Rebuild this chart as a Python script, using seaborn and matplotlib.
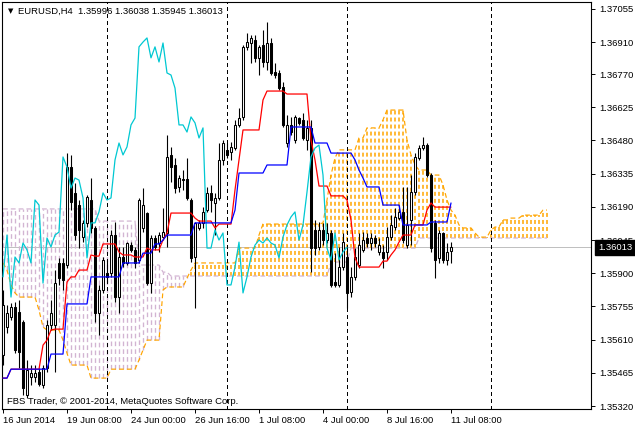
import numpy as np
import matplotlib
matplotlib.use("Agg")
import matplotlib.pyplot as plt
import matplotlib.transforms as mtransforms
import seaborn as sns

# EURUSD H4, one value per bar (bar 0 = 16 Jun 2014 16:00)
opens = [
    1.35543, 1.35665, 1.35709, 1.35752, 1.35731, 1.35687, 1.35368, 1.35447, 1.35447, 1.35468,
    1.35412, 1.35486, 1.35674, 1.35674, 1.35945, 1.35945, 1.35936, 1.36364, 1.36251, 1.36198,
    1.36058, 1.36120, 1.36220, 1.36098, 1.35726, 1.35827, 1.35901, 1.35901, 1.36067, 1.35796,
    1.35971, 1.35945, 1.36023, 1.36002, 1.35958, 1.36098, 1.36163, 1.35857, 1.36054, 1.36032,
    1.36058, 1.36076, 1.36417, 1.36373, 1.36277, 1.36312, 1.36312, 1.36220, 1.35971, 1.36098,
    1.36120, 1.36176, 1.36251, 1.36207, 1.36229, 1.36395, 1.36439, 1.36430, 1.36447, 1.36548,
    1.36583, 1.36889, 1.36906, 1.36919, 1.36841, 1.36897, 1.36823, 1.36906, 1.36779, 1.36775,
    1.36714, 1.36469, 1.36548, 1.36482, 1.36578, 1.36570, 1.36482, 1.36535, 1.36089, 1.36015,
    1.36089, 1.36045, 1.36076, 1.35862, 1.35849, 1.35927, 1.35971, 1.35818, 1.35884, 1.35936,
    1.36002, 1.36054, 1.36032, 1.36054, 1.35993, 1.35993, 1.35993, 1.36058, 1.36102, 1.36141,
    1.36168, 1.36023, 1.36133, 1.36255, 1.36404, 1.36447, 1.36460, 1.36329, 1.36120, 1.35967,
    1.36076, 1.35958, 1.35996,
]
highs = [
    1.35827, 1.35761, 1.35770, 1.35774, 1.35783, 1.35696, 1.35521, 1.35499, 1.35499, 1.35486,
    1.35499, 1.35696, 1.35783, 1.35914, 1.35967, 1.35967, 1.36425, 1.36417, 1.36294, 1.36220,
    1.36133, 1.36242, 1.36316, 1.36106, 1.35849, 1.35971, 1.35958, 1.36089, 1.36124, 1.36015,
    1.36015, 1.36036, 1.36036, 1.36015, 1.36229, 1.36272, 1.36168, 1.36067, 1.36067, 1.36080,
    1.36185, 1.36504, 1.36452, 1.36404, 1.36329, 1.36351, 1.36404, 1.36229, 1.36124, 1.36133,
    1.36189, 1.36277, 1.36286, 1.36251, 1.36469, 1.36482, 1.36469, 1.36474, 1.36570, 1.36622,
    1.36897, 1.36950, 1.36941, 1.36941, 1.36897, 1.36963, 1.36998, 1.36928, 1.36819, 1.36788,
    1.36736, 1.36591, 1.36583, 1.36591, 1.36583, 1.36600, 1.36570, 1.36570, 1.36133, 1.36124,
    1.36120, 1.36120, 1.36089, 1.35988, 1.36015, 1.36076, 1.36015, 1.35927, 1.36010, 1.36076,
    1.36080, 1.36076, 1.36076, 1.36067, 1.36054, 1.36023, 1.36102, 1.36154, 1.36185, 1.36198,
    1.36277, 1.36277, 1.36329, 1.36425, 1.36460, 1.36495, 1.36469, 1.36338, 1.36133, 1.36089,
    1.36080, 1.36032, 1.36038,
]
lows = [
    1.35499, 1.35639, 1.35696, 1.35551, 1.35486, 1.35368, 1.35355, 1.35412, 1.35425, 1.35407,
    1.35398, 1.35468, 1.35652, 1.35468, 1.35849, 1.35827, 1.35923, 1.36176, 1.36045, 1.36010,
    1.36036, 1.36102, 1.36076, 1.35687, 1.35630, 1.35814, 1.35857, 1.35884, 1.35774, 1.35726,
    1.35927, 1.35936, 1.35993, 1.35923, 1.35945, 1.36080, 1.35849, 1.35814, 1.36002, 1.35993,
    1.36045, 1.36015, 1.36299, 1.36251, 1.36255, 1.36264, 1.36220, 1.35949, 1.35748, 1.36089,
    1.36098, 1.36168, 1.36168, 1.36067, 1.36220, 1.36373, 1.36404, 1.36395, 1.36439, 1.36539,
    1.36570, 1.36876, 1.36819, 1.36823, 1.36766, 1.36801, 1.36788, 1.36766, 1.36753, 1.36701,
    1.36539, 1.36452, 1.36504, 1.36469, 1.36548, 1.36482, 1.36439, 1.35905, 1.35980, 1.36002,
    1.36023, 1.36032, 1.35840, 1.35840, 1.35840, 1.35914, 1.35748, 1.35796, 1.35870, 1.35923,
    1.35993, 1.36015, 1.36002, 1.36015, 1.35980, 1.35923, 1.35958, 1.36045, 1.36089, 1.36133,
    1.36032, 1.36010, 1.36023, 1.36242, 1.36395, 1.36439, 1.36321, 1.35993, 1.35879, 1.35945,
    1.35945, 1.35936, 1.35945,
]
closes = [
    1.35761, 1.35726, 1.35752, 1.35565, 1.35556, 1.35398, 1.35477, 1.35464, 1.35464, 1.35416,
    1.35486, 1.35674, 1.35726, 1.35857, 1.35879, 1.35870, 1.36364, 1.36211, 1.36067, 1.36089,
    1.36120, 1.36233, 1.36098, 1.35726, 1.35827, 1.35958, 1.35884, 1.36067, 1.35796, 1.35971,
    1.35945, 1.36032, 1.36002, 1.35945, 1.36220, 1.36198, 1.35857, 1.36054, 1.36015, 1.36067,
    1.36080, 1.36408, 1.36364, 1.36272, 1.36316, 1.36307, 1.36229, 1.35967, 1.36120, 1.36120,
    1.36168, 1.36251, 1.36220, 1.36229, 1.36395, 1.36469, 1.36417, 1.36452, 1.36548, 1.36578,
    1.36889, 1.36910, 1.36928, 1.36841, 1.36889, 1.36823, 1.36906, 1.36775, 1.36766, 1.36709,
    1.36548, 1.36548, 1.36517, 1.36583, 1.36557, 1.36491, 1.36535, 1.36010, 1.36010, 1.36089,
    1.36045, 1.36076, 1.35849, 1.35849, 1.35927, 1.36036, 1.35814, 1.35884, 1.35971, 1.36023,
    1.36045, 1.36032, 1.36054, 1.36032, 1.36023, 1.35967, 1.36058, 1.36111, 1.36146, 1.36168,
    1.36045, 1.36111, 1.36255, 1.36408, 1.36447, 1.36460, 1.36329, 1.36010, 1.35958, 1.36076,
    1.35958, 1.35993, 1.36013,
]

# Ichimoku lines
tenkan = [
    1.35442, 1.35442, 1.35481, 1.35481, 1.35481, 1.35481, 1.35481, 1.35481, 1.35481, 1.35481,
    1.35586, 1.35608, 1.35652, 1.35656, 1.35656, 1.35656, 1.35862, 1.35884, 1.35884, 1.35914,
    1.35914, 1.35914, 1.35980, 1.35975, 1.35975, 1.36028, 1.36028, 1.36028, 1.36028, 1.35993,
    1.35980, 1.35980, 1.35980, 1.35971, 1.35971, 1.35971, 1.36010, 1.36002, 1.36002, 1.36002,
    1.36045, 1.36076, 1.36163, 1.36163, 1.36163, 1.36163, 1.36163, 1.36163, 1.36141, 1.36128,
    1.36128, 1.36128, 1.36128, 1.36098, 1.36115, 1.36115, 1.36115, 1.36115, 1.36264, 1.36395,
    1.36526, 1.36526, 1.36526, 1.36526, 1.36526, 1.36657, 1.36696, 1.36696, 1.36696, 1.36696,
    1.36696, 1.36683, 1.36683, 1.36683, 1.36683, 1.36683, 1.36683, 1.36482, 1.36395, 1.36281,
    1.36281, 1.36281, 1.36238, 1.36238, 1.36238, 1.36238, 1.36220, 1.36133, 1.35967, 1.35927,
    1.35927, 1.35927, 1.35927, 1.35927, 1.35927, 1.35953, 1.35953, 1.35980, 1.36002, 1.36036,
    1.36067, 1.36067, 1.36067, 1.36111, 1.36111, 1.36111, 1.36176, 1.36207, 1.36189, 1.36189,
    1.36189, 1.36189, 1.36189,
]
kijun = [
    1.35442, 1.35442, 1.35481, 1.35481, 1.35481, 1.35481, 1.35481, 1.35481, 1.35481, 1.35481,
    1.35481, 1.35481, 1.35547, 1.35547, 1.35547, 1.35547, 1.35766, 1.35766, 1.35766, 1.35766,
    1.35766, 1.35766, 1.35884, 1.35884, 1.35884, 1.35884, 1.35884, 1.35884, 1.35884, 1.35884,
    1.35945, 1.35945, 1.35945, 1.35945, 1.35945, 1.35988, 1.35988, 1.35988, 1.36028, 1.36028,
    1.36045, 1.36067, 1.36067, 1.36067, 1.36067, 1.36067, 1.36067, 1.36067, 1.36120, 1.36120,
    1.36120, 1.36120, 1.36120, 1.36120, 1.36120, 1.36120, 1.36120, 1.36120, 1.36176, 1.36338,
    1.36338, 1.36338, 1.36338, 1.36338, 1.36338, 1.36338, 1.36373, 1.36373, 1.36373, 1.36373,
    1.36373, 1.36373, 1.36539, 1.36539, 1.36539, 1.36539, 1.36539, 1.36539, 1.36469, 1.36469,
    1.36469, 1.36469, 1.36425, 1.36425, 1.36425, 1.36425, 1.36425, 1.36425, 1.36395, 1.36351,
    1.36316, 1.36277, 1.36277, 1.36277, 1.36277, 1.36198, 1.36198, 1.36198, 1.36198, 1.36198,
    1.36111, 1.36111, 1.36111, 1.36111, 1.36111, 1.36111, 1.36111, 1.36124, 1.36124, 1.36124,
    1.36124, 1.36124, 1.36207,
]
# cloud runs on past the last bar
senkou_a = [
    1.35945, 1.35914, 1.35849, 1.35814, 1.35796, 1.35796, 1.35796, 1.35796, 1.35796, 1.35739,
    1.35665, 1.35652, 1.35652, 1.35652, 1.35652, 1.35608, 1.35551, 1.35499, 1.35499, 1.35499,
    1.35499, 1.35499, 1.35442, 1.35442, 1.35442, 1.35442, 1.35442, 1.35481, 1.35481, 1.35481,
    1.35481, 1.35481, 1.35481, 1.35481, 1.35521, 1.35565, 1.35608, 1.35608, 1.35608, 1.35608,
    1.35827, 1.35840, 1.35840, 1.35840, 1.35840, 1.35840, 1.35879, 1.35914, 1.35945, 1.35945,
    1.35945, 1.35945, 1.35945, 1.35945, 1.35945, 1.35945, 1.35945, 1.35945, 1.35945, 1.36010,
    1.36010, 1.36010, 1.36010, 1.36010, 1.36067, 1.36115, 1.36115, 1.36115, 1.36115, 1.36115,
    1.36115, 1.36115, 1.36115, 1.36115, 1.36115, 1.36115, 1.36115, 1.36115, 1.36115, 1.36115,
    1.36120, 1.36220, 1.36329, 1.36404, 1.36439, 1.36439, 1.36439, 1.36439, 1.36439, 1.36491,
    1.36491, 1.36535, 1.36535, 1.36535, 1.36535, 1.36570, 1.36613, 1.36613, 1.36613, 1.36613,
    1.36613, 1.36482, 1.36417, 1.36373, 1.36351, 1.36351, 1.36351, 1.36329, 1.36329, 1.36329,
    1.36286, 1.36220, 1.36176, 1.36154, 1.36111, 1.36098, 1.36098, 1.36098, 1.36076, 1.36058,
    1.36058, 1.36058, 1.36089, 1.36102, 1.36102, 1.36133, 1.36133, 1.36141, 1.36141, 1.36141,
    1.36154, 1.36154, 1.36154, 1.36154, 1.36154, 1.36176, 1.36176,
]
senkou_b = [
    1.36181, 1.36181, 1.36181, 1.36181, 1.36181, 1.36181, 1.36181, 1.36181, 1.36181, 1.36181,
    1.36181, 1.36181, 1.36181, 1.36181, 1.36181, 1.36181, 1.36181, 1.36181, 1.36181, 1.36181,
    1.36181, 1.36181, 1.36181, 1.36181, 1.36128, 1.36128, 1.36128, 1.36128, 1.36128, 1.36128,
    1.36128, 1.36128, 1.36128, 1.36128, 1.35936, 1.35936, 1.35936, 1.35936, 1.35936, 1.35936,
    1.35905, 1.35905, 1.35888, 1.35888, 1.35888, 1.35888, 1.35888, 1.35888, 1.35888, 1.35888,
    1.35888, 1.35888, 1.35888, 1.35888, 1.35888, 1.35888, 1.35888, 1.35888, 1.35888, 1.35888,
    1.35888, 1.35888, 1.35888, 1.35888, 1.35888, 1.35888, 1.35888, 1.35888, 1.35888, 1.35888,
    1.35888, 1.35888, 1.35888, 1.35888, 1.35888, 1.35888, 1.35888, 1.35888, 1.35888, 1.35888,
    1.35888, 1.35888, 1.35949, 1.35949, 1.35949, 1.35949, 1.35949, 1.36010, 1.36010, 1.36010,
    1.36010, 1.36010, 1.36010, 1.36010, 1.36010, 1.36010, 1.36010, 1.36010, 1.36010, 1.36010,
    1.36010, 1.36010, 1.36010, 1.36010, 1.36054, 1.36054, 1.36054, 1.36054, 1.36054, 1.36054,
    1.36054, 1.36054, 1.36054, 1.36054, 1.36054, 1.36054, 1.36054, 1.36054, 1.36054, 1.36054,
    1.36054, 1.36054, 1.36054, 1.36054, 1.36054, 1.36054, 1.36054, 1.36054, 1.36054, 1.36054,
    1.36054, 1.36054, 1.36054, 1.36054, 1.36054, 1.36054, 1.36054,
]
chikou_shift = 26

time_ticks = [0, 16, 32, 48, 64, 80, 96, 112]
time_labels = ["16 Jun 2014", "19 Jun 08:00", "24 Jun 00:00", "26 Jun 16:00",
               "1 Jul 08:00", "4 Jul 00:00", "8 Jul 16:00", "11 Jul 08:00"]
week_starts = [26, 56, 86, 122]
price_ticks = [1.37055, 1.36910, 1.36770, 1.36625, 1.36480, 1.36335, 1.36190,
               1.36045, 1.35900, 1.35755, 1.35610, 1.35465, 1.35320]
symbol = "EURUSD,H4"

sns.set_theme(style="white")
plt.rcParams["font.family"] = ["Liberation Sans", "DejaVu Sans"]
FS = 6.8
PX = 0.72  # one pixel at 100 dpi, in points

o = np.array(opens)
h = np.array(highs)
l = np.array(lows)
c = np.array(closes)
bars = np.arange(len(c))

fig = plt.figure(figsize=(6.35, 4.28), dpi=100)
W, H = 635, 428
ax = fig.add_axes([2 / W, 19 / H, 589 / W, 407 / H])
ax.set_facecolor("white")

# kumo: dotted vertical hatching between the two spans, one stroke per bar
sandy = "#ffa500"
thistle = "#d2b4d2"
for i, (a, b) in enumerate(zip(senkou_a, senkou_b)):
    up = a >= b
    ax.plot([i, i], [min(a, b), max(a, b)],
            color=sandy if up else thistle,
            linestyle=(0, (2.6, 2.0)) if up else (0, (3.5, 2.4)),
            linewidth=1.1 if up else 0.95, zorder=1)
cloud_x = np.arange(len(senkou_a))
ax.plot(cloud_x, senkou_b, color=thistle, linestyle=(0, (4, 2.5)), linewidth=PX * 1.2,
        zorder=1.5)
ax.plot(cloud_x, senkou_a, color=sandy, linestyle=(0, (4, 2.5)), linewidth=PX * 1.2,
        zorder=1.6)

# bid line and week separators
ax.axhline(closes[-1], color="#c0c0c0", linewidth=PX, antialiased=False, zorder=0.5)
for w in week_starts:
    ax.axvline(w, color="black", linestyle=(0, (4, 3)), linewidth=PX,
               antialiased=False, zorder=2)

# candles
ax.vlines(bars, l, h, color="black", linewidth=0.8, zorder=3)
body_col = ["white" if cc >= oo else "black" for oo, cc in zip(opens, closes)]
ax.bar(bars, np.abs(c - o), bottom=np.minimum(o, c), width=0.55, color=body_col,
       edgecolor="black", linewidth=0.75, zorder=4)

# tenkan / kijun / chikou
sns.lineplot(x=bars, y=tenkan, color="#ff0000", linewidth=0.9, ax=ax, zorder=5)
sns.lineplot(x=bars, y=kijun, color="#0000ff", linewidth=0.9, ax=ax, zorder=6)
sns.lineplot(x=bars[:-chikou_shift], y=c[chikou_shift:], color="#00c8d2",
             linewidth=0.9, ax=ax, zorder=5)

ax.set_xlim(-0.25, 147)
ax.set_ylim(1.35307, 1.37085)

for s in ax.spines.values():
    s.set_color("black")
    s.set_linewidth(0.8)

ax.yaxis.tick_right()
ax.set_yticks(price_ticks)
ax.set_yticklabels([f"{p:.5f}" for p in price_ticks])
ax.set_xticks(time_ticks)
ax.set_xticklabels(time_labels)
for t in ax.get_xticklabels():
    t.set_ha("left")
ax.tick_params(axis="both", direction="out", length=3, width=0.7, color="black",
               labelsize=FS, labelcolor="black")
ax.tick_params(axis="y", pad=3, right=True, left=False)
ax.tick_params(axis="x", pad=2, bottom=True)
ax.set_xlabel("")
ax.set_ylabel("")
ax.grid(False)

# current price marker on the scale
trans = mtransforms.blended_transform_factory(ax.transAxes, ax.transData)
ax.text(1.012, closes[-1], f"{closes[-1]:.5f}", transform=trans, ha="left", va="center",
        fontsize=FS, color="white", zorder=10, clip_on=False,
        bbox=dict(boxstyle="square,pad=0.3", fc="black", ec="black"))

# header and footer
fig.text(8 / W, 1 - 11 / H, "\u25bc", fontsize=5, family="DejaVu Sans",
         ha="left", va="center", color="black")
fig.text(18 / W, 1 - 11 / H,
         f"{symbol}  {opens[-1]:.5f} {highs[-1]:.5f} {lows[-1]:.5f} {closes[-1]:.5f}",
         fontsize=FS, ha="left", va="center", color="black")
fig.text(7 / W, 1 - 402 / H, "FBS Trader, \u00a9 2001-2014, MetaQuotes Software Corp.",
         fontsize=FS, ha="left", va="center", color="black", zorder=10)

fig.savefig("out.png", dpi=100)
plt.close(fig)
